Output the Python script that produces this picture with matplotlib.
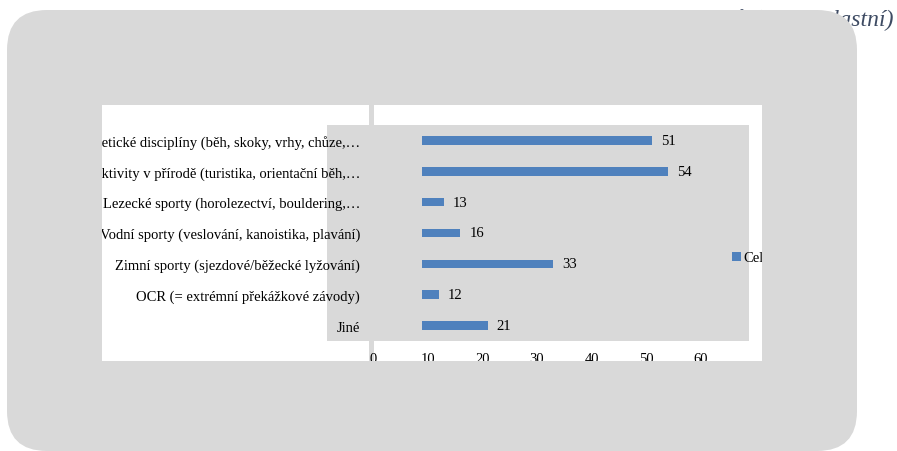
import matplotlib
matplotlib.use("Agg")
import matplotlib.pyplot as plt
from matplotlib.patches import FancyBboxPatch, Rectangle

# data
categories = [
    "Atletické disciplíny (běh, skoky, vrhy, chůze,…",
    "Aktivity v přírodě (turistika, orientační běh,…",
    "Lezecké sporty (horolezectví, bouldering,…",
    "Vodní sporty (veslování, kanoistika, plavání)",
    "Zimní sporty (sjezdové/běžecké lyžování)",
    "OCR (= extrémní překážkové závody)",
    "Jiné",
]
values = [51, 54, 13, 16, 33, 12, 21]
x_ticks = [0, 10, 20, 30, 40, 50, 60]
series_name = "Celkem"
caption = "Graf 16: Nejčastěji provozované sporty kromě běhu u respondentů (zdroj: vlastní)"

W, H = 897, 452
GRAY = "#D9D9D9"
BLUE = "#4F81BD"
SERIF = "Liberation Serif"
FS = 10.5

fig = plt.figure(figsize=(W / 100, H / 100), dpi=100)
fig.patch.set_facecolor("white")


def inch_box(x0, y0, x1, y1):
    # pixel box (y from top) -> inches for dpi_scale_trans
    return x0 / 100, (H - y1) / 100, (x1 - x0) / 100, (y1 - y0) / 100


def frac_box(x0, y0, x1, y1):
    return [x0 / W, 1 - y1 / H, (x1 - x0) / W, (y1 - y0) / H]


def add_rect(x0, y0, x1, y1, color, z):
    bx, by, bw, bh = inch_box(x0, y0, x1, y1)
    fig.patches.append(Rectangle((bx, by), bw, bh, transform=fig.dpi_scale_trans,
                                 facecolor=color, edgecolor="none", zorder=z))


# caption, mostly hidden behind the rounded frame
fig.text(893 / W, 1 - 26 / H, caption, ha="right", va="baseline",
         family=SERIF, style="italic", fontsize=17, color="#3E4B63", zorder=0.05)

# rounded gray frame
bx, by, bw, bh = inch_box(7, 11, 857, 452)
fig.patches.append(FancyBboxPatch((bx, by), bw, bh, boxstyle="round,pad=0,rounding_size=0.4",
                                  transform=fig.dpi_scale_trans, facecolor=GRAY,
                                  edgecolor="none", zorder=0.1))
# white chart area and vertical axis strip
add_rect(102, 106, 762, 362, "white", 0.2)
add_rect(369, 106, 374, 362, GRAY, 0.3)

# plot area
ax = fig.add_axes(frac_box(327, 126, 749, 342), zorder=1)
ax.set_facecolor(GRAY)
bars = ax.barh(categories, values, height=0.28, color=BLUE, label=series_name)
ax.set_xlim(-8.41, 68.78)
ax.set_ylim(len(categories) - 0.5, -0.5)

# bars only show from 9 onwards in the reference
clip = Rectangle((9, -0.5), 100, len(categories), transform=ax.transData)
for b in bars:
    b.set_clip_path(clip)

ax.bar_label(bars, padding=6.5, fontsize=FS, family=SERIF, color="black")

ax.set_xticks(x_ticks)
ax.tick_params(axis="x", length=0, pad=8, labelsize=FS, labelcolor="black")
ax.tick_params(axis="y", length=0, pad=-23.8, labelsize=FS, labelcolor="black")
for lab in ax.get_xticklabels() + ax.get_yticklabels():
    lab.set_family(SERIF)
ax.spines[["left", "right", "top", "bottom"]].set_visible(False)

leg = ax.legend(loc="center left", bbox_to_anchor=(732 / W, 1 - 259 / H),
                bbox_transform=fig.transFigure, frameon=False,
                handlelength=0.6, handleheight=0.6, handletextpad=0.2,
                borderpad=0, borderaxespad=0, prop={"family": SERIF, "size": FS})

# gray covers that cut the texts at the chart area edges
add_rect(40, 100, 102, 370, GRAY, 5)
add_rect(762, 100, 800, 370, GRAY, 5)
add_rect(100, 362, 770, 385, GRAY, 5)

fig.savefig("out.png", dpi=100)
